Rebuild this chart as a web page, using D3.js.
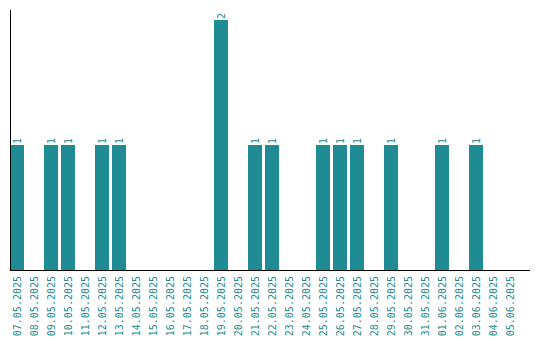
<!DOCTYPE html>
<html>
<head>
<meta charset="utf-8">
<script src="https://cdn.jsdelivr.net/npm/d3@7"></script>
<style>
  html, body { margin: 0; padding: 0; background: #fff; }
  svg { display: block; }
</style>
</head>
<body>
<svg id="chart" width="540" height="340"></svg>
<script>
const dates = ["07.05.2025", "08.05.2025", "09.05.2025", "10.05.2025", "11.05.2025", "12.05.2025",
  "13.05.2025", "14.05.2025", "15.05.2025", "16.05.2025", "17.05.2025", "18.05.2025",
  "19.05.2025", "20.05.2025", "21.05.2025", "22.05.2025", "23.05.2025", "24.05.2025",
  "25.05.2025", "26.05.2025", "27.05.2025", "28.05.2025", "29.05.2025", "30.05.2025",
  "31.05.2025", "01.06.2025", "02.06.2025", "03.06.2025", "04.06.2025", "05.06.2025"];
const counts = [1, 0, 1, 1, 0, 1, 1, 0, 0, 0, 0, 0, 2, 0, 1, 1, 0, 0, 1, 1, 1, 0, 1, 0, 0, 1, 0, 1, 0, 0];

const teal = "#1e8c92";
const svg = d3.select("#chart");
const left = 10, bottom = 270;

const x = d3.scaleBand()
  .domain(dates)
  .range([left, 517])
  .paddingInner(3 / 17)
  .paddingOuter(0);

const y = d3.scaleLinear()
  .domain([0, 2])
  .range([bottom, 20]);

const rows = dates.map((d, i) => ({ date: d, value: counts[i] }));

svg.append("g")
  .selectAll("rect")
  .data(rows.filter(d => d.value > 0))
  .join("rect")
  .attr("x", d => x(d.date))
  .attr("width", x.bandwidth())
  .attr("y", d => y(d.value))
  .attr("height", d => y(0) - y(d.value))
  .attr("fill", teal);

svg.append("g")
  .selectAll("text")
  .data(rows.filter(d => d.value > 0))
  .join("text")
  .attr("transform", d => `translate(${x(d.date) + x.bandwidth() / 2 + 3.5},${y(d.value) - 1})rotate(-90)`)
  .attr("font-family", "DejaVu Sans Mono, monospace")
  .attr("font-size", "10px")
  .attr("fill", teal)
  .text(d => d.value);

// date labels
svg.append("g")
  .selectAll("text")
  .data(dates)
  .join("text")
  .attr("transform", d => `translate(${x(d) + x.bandwidth() / 2 + 4},${bottom + 6})rotate(-90)`)
  .attr("text-anchor", "end")
  .attr("font-family", "DejaVu Sans Mono, monospace")
  .attr("font-size", "10px")
  .attr("fill", teal)
  .text(d => d);

// axis lines
svg.append("line")
  .attr("x1", left + 0.5).attr("x2", left + 0.5)
  .attr("y1", 10).attr("y2", bottom)
  .attr("stroke", "#000");

svg.append("line")
  .attr("x1", left).attr("x2", 530)
  .attr("y1", bottom + 0.5).attr("y2", bottom + 0.5)
  .attr("stroke", "#000");
</script>
</body>
</html>
